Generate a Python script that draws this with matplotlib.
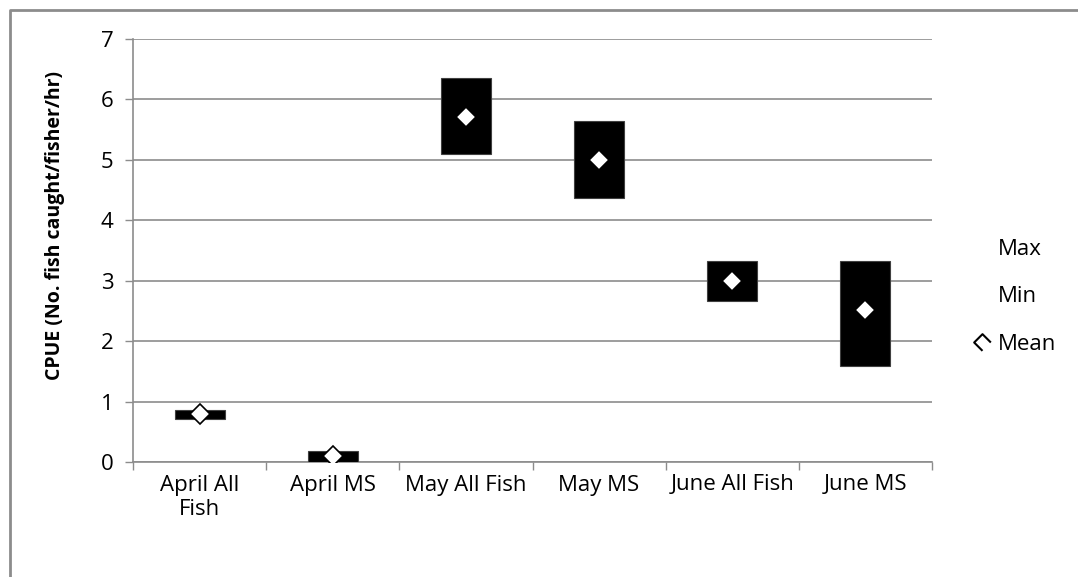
import matplotlib
matplotlib.use("Agg")
import matplotlib.pyplot as plt
from matplotlib.lines import Line2D
from matplotlib.path import Path
import numpy as np

categories = ["April All\nFish", "April MS", "May All Fish", "May MS", "June All Fish", "June MS"]
max_vals = [0.86, 0.18, 6.36, 5.64, 3.33, 3.33]
min_vals = [0.71, 0.00, 5.09, 4.37, 2.67, 1.59]
mean_vals = [0.79, 0.10, 5.71, 5.00, 2.99, 2.51]
yticks = [0, 1, 2, 3, 4, 5, 6, 7]

plt.rcParams['font.family'] = ['Open Sans', 'DejaVu Sans']
FS = 16

W, H = 1078, 577
fig = plt.figure(figsize=(W/100, H/100), dpi=100)
ax = fig.add_axes([133/W, 1-462/H, (932-133)/W, (462-39)/H])

x = np.arange(len(categories))
heights = [mx - mn for mx, mn in zip(max_vals, min_vals)]
ax.bar(x, heights, bottom=min_vals, width=0.375, color='black', edgecolor='#404040', linewidth=0.8, zorder=3)
ax.plot(x, mean_vals, linestyle='none', marker='D', markersize=10, markerfacecolor='white',
        markeredgecolor='black', markeredgewidth=1.2, zorder=4)

ax.set_xlim(-0.5, len(categories)-0.5)
ax.set_ylim(0, 7)
ax.set_yticks(yticks)
ax.set_yticklabels([str(v) for v in yticks], fontsize=FS)
ax.set_xticks(x)
ax.set_xticklabels(categories, fontsize=FS, linespacing=1.2)
ax.set_xticks(np.arange(len(categories)+1) - 0.5, minor=True)
ax.tick_params(axis='x', which='major', length=0, pad=9)
ax.tick_params(axis='x', which='minor', length=6, color='#8c8c8c', width=1)
ax.tick_params(axis='y', length=6, color='#8c8c8c', width=1, pad=8)
ax.grid(axis='y', color='#8c8c8c', linewidth=1.2, zorder=0)
for s in ['top', 'right']:
    ax.spines[s].set_visible(False)
for s in ['left', 'bottom']:
    ax.spines[s].set_color('#8c8c8c')
    ax.spines[s].set_linewidth(1.2)
ax.set_axisbelow(True)
ax.set_ylabel("CPUE (No. fish caught/fisher/hr)", fontsize=14, fontweight='bold')
ax.yaxis.set_label_coords(-0.085, 0.56)

open_diamond = Path([(0.0, -1.0), (-1.0, 0.0), (0.0, 1.0), (1.0, 0.0)],
                    [Path.MOVETO, Path.LINETO, Path.LINETO, Path.LINETO])
handles = [Line2D([], [], linestyle='none'),
           Line2D([], [], linestyle='none'),
           Line2D([], [], linestyle='none', marker=open_diamond, markersize=12,
                  fillstyle='none', markeredgecolor='black', markeredgewidth=1.5)]
fig.legend(handles, ["Max", "Min", "Mean"], loc='center left', bbox_to_anchor=(951/W, 1-297/H),
           frameon=False, fontsize=FS, handlelength=1.0, handletextpad=0.2, labelspacing=1.2)

border = Line2D([10/W, 10/W, 1.0], [0.0, 1-10/H, 1-10/H], transform=fig.transFigure,
                color='#8c8c8c', linewidth=2)
fig.add_artist(border)

fig.savefig("out.png", dpi=100)
